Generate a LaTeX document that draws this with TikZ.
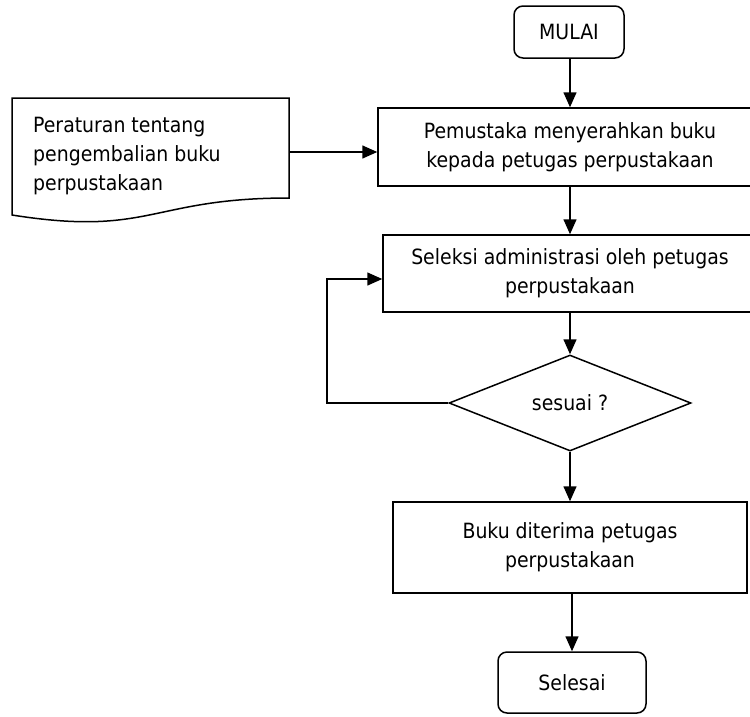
\documentclass[tikz,border=0pt]{standalone}
\usepackage{fontspec}
\setmainfont{DejaVu Sans Condensed}
\usetikzlibrary{shapes.geometric,arrows.meta,calc}
\begin{document}
\begin{tikzpicture}[x=1pt,y=-1pt,
  font=\fontsize{21}{29}\selectfont,
  outline/.style={line width=1.5pt},
  terminal/.style={outline, draw, rounded corners=9pt, inner sep=0pt, align=center},
  process/.style={outline, draw, inner sep=0pt, align=center},
  decision/.style={outline, draw, diamond, aspect=2.5, inner sep=0pt},
  flow/.style={line width=1.5pt, -{Triangle[length=15pt,width=13pt]}}]
\useasboundingbox (0,0) rectangle (750,716);
\clip (0,0) rectangle (750,716);

% flow nodes
\node[terminal, minimum width=110pt, minimum height=52pt] (start) at (569,32) {MULAI};
\node[process, minimum width=384pt, minimum height=78pt] (p1) at (570,147)
  {Pemustaka menyerahkan buku\\kepada petugas perpustakaan};
\node[process, minimum width=374pt, minimum height=77pt] (p2) at (570,273.5)
  {Seleksi administrasi oleh petugas\\perpustakaan};
\node[decision, minimum width=242pt, minimum height=96pt] (dec) at (570,403) {sesuai ?};
\node[process, minimum width=354pt, minimum height=91pt] (p3) at (570,547.5)
  {Buku diterima petugas\\perpustakaan};
\node[terminal, minimum width=148pt, minimum height=61pt] (stop) at (572,682.5) {Selesai};

% document symbol with wavy bottom
\draw[outline] (12,98) -- (289,98) -- (289,198)
  .. controls (150.5,198) and (150.5,237) .. (12,215) -- cycle;
\node[anchor=north west, align=left, inner sep=0pt] (doc) at (33,117)
  {Peraturan tentang\\pengembalian buku\\perpustakaan};
\coordinate (docout) at (290,152);

% connectors
\draw[flow] (start.south -| p1.north) -- (p1.north);
\draw[flow] (docout) -- (docout -| p1.west);
\draw[flow] (p1) -- (p2);
\draw[flow] (p2) -- (dec);
\draw[flow] (dec) -- (p3);
\draw[flow] (p3.south -| stop.north) -- (stop.north);
\coordinate (loopin) at ($(p2.west)+(0,5.5)$);
\draw[flow] (dec.west) -- (327,403) |- (loopin);
\end{tikzpicture}
\end{document}
